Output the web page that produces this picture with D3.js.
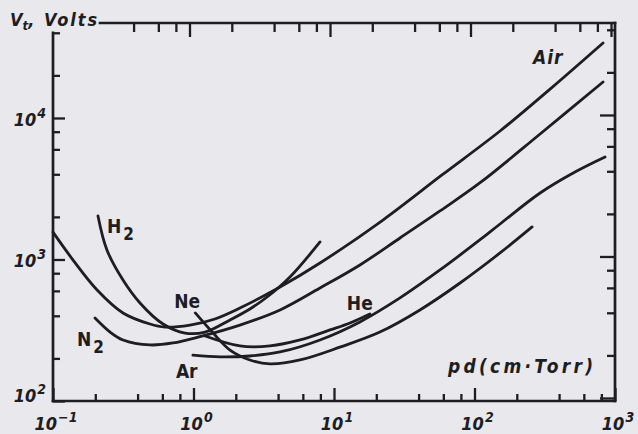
<!DOCTYPE html>
<html>
<head>
<meta charset="utf-8">
<script src="https://cdn.jsdelivr.net/npm/d3@7"></script>
<style>
  body { margin: 0; background: #e8e8ed; }
  svg { display: block; }
</style>
</head>
<body>
<div id="container"></div>
<script>
let w = 638;
let h = 434;

// axis ticks
let xMajor = [0.1, 1, 10, 100, 1000];
let xExp = ["-1", "0", "1", "2", "3"];
let xMinor = [0.2, 0.4, 0.6, 0.8, 2, 4, 6, 8, 20, 40, 60, 80, 200, 400, 600, 800];
let yMajor = [100, 1000, 10000];
let yExp = ["2", "3", "4"];
let yMinor = [200, 400, 600, 800, 2000, 4000, 6000, 8000, 20000, 40000];

// Paschen curves: pd (cm.Torr) and breakdown voltage (V)
let airPd = [0.1, 0.139, 0.206, 0.315, 0.49, 0.627, 0.944, 1.42, 2.14, 4.13, 7.95, 22.3, 58.7, 152, 345, 822];
let airV  = [1560, 990, 609, 419, 350, 333, 344, 380, 454, 639, 944, 1900, 3955, 8090, 16000, 33900];

let h2Pd = [0.209, 0.242, 0.315, 0.416, 0.607, 0.871, 1.21, 1.82, 2.52, 3.34, 4.86, 7.95];
let h2V  = [2030, 1167, 716, 493, 350, 302, 307, 374, 447, 543, 752, 1330];

let n2Pd = [0.199, 0.255, 0.315, 0.49, 0.714, 1.11, 2.14, 4.13, 7.95, 15.3, 29.5, 56.8, 109, 293, 822];
let n2V  = [386, 307, 270, 249, 257, 285, 344, 440, 629, 915, 1419, 2203, 3472, 7710, 17960];

let nePd = [1.03, 1.38, 1.82, 2.52, 3.5, 5.73, 11.0, 21.2, 40.9, 78.9, 152, 257];
let neV  = [419, 302, 229, 195, 183, 195, 240, 307, 440, 682, 1112, 1698];

let arPd = [0.99, 1.55, 2.52, 4.13, 7.95, 15.3, 29.5, 56.8, 109, 152, 293, 519, 849];
let arV  = [211, 205, 208, 222, 270, 362, 535, 843, 1374, 1782, 2950, 4150, 5300];

let hePd = [1.21, 2.14, 3.5, 5.73, 9.37, 13.0, 18.0];
let heV  = [288, 245, 245, 270, 318, 356, 412];

let gases = [
  {name: "Air", pd: airPd, v: airV},
  {name: "H2",  pd: h2Pd,  v: h2V},
  {name: "N2",  pd: n2Pd,  v: n2V},
  {name: "Ne",  pd: nePd,  v: neV},
  {name: "Ar",  pd: arPd,  v: arV},
  {name: "He",  pd: hePd,  v: heV}
];

// where each name sits, relative to the first or last point of its curve (px)
let labelSpots = {
  Air: {end: true,  dx: -70, dy: 21, italic: true},
  H2:  {end: false, dx: 9,   dy: 17},
  N2:  {end: false, dx: -18, dy: 28},
  Ne:  {end: false, dx: -21, dy: -5},
  Ar:  {end: false, dx: -17, dy: 23},
  He:  {end: true,  dx: -23, dy: -4}
};

let ink = "#1d1d22";
let textFont = "'DejaVu Sans Condensed', 'DejaVu Sans', sans-serif";

let viz = d3.select("#container")
  .append("svg")
    .attr("width", w)
    .attr("height", h)
;
viz.append("rect").attr("width", w).attr("height", h).attr("fill", "#e8e8ed");

let xScale = d3.scaleLog().domain([0.1, 1000]).range([53, 615]);
let yScale = d3.scaleLog().domain([100, 46900]).range([401, 23]);

let x0 = xScale(0.1), x1 = xScale(1000);
let y0 = yScale(100), y1 = yScale(46900);

// ticks, drawn with d3 axes; the scan is a bit skewed so top/right sit a few px off
function tickAxis(axisFn, values, size, transform){
  let g = viz.append("g").attr("transform", transform);
  g.call(axisFn.tickValues(values).tickSizeInner(size).tickSizeOuter(0).tickFormat(""));
  g.select(".domain").remove();
  g.selectAll("line").attr("stroke", ink).attr("stroke-width", 2.3);
  return g;
}
tickAxis(d3.axisBottom(xScale), xMajor, -13, "translate(0," + y0 + ")");
tickAxis(d3.axisBottom(xScale), xMinor, -7, "translate(0," + y0 + ")");
let topLineStart = 100;
tickAxis(d3.axisTop(xScale), xMajor.filter(d => xScale(d) > topLineStart), -14, "translate(-4," + y1 + ")");
tickAxis(d3.axisTop(xScale), xMinor.filter(d => xScale(d) > topLineStart + 10), -9, "translate(-4," + y1 + ")");
tickAxis(d3.axisLeft(yScale), yMajor, -12, "translate(" + x0 + ",0)");
tickAxis(d3.axisLeft(yScale), yMinor, -7, "translate(" + x0 + ",0)");
tickAxis(d3.axisRight(yScale), yMajor, -15, "translate(" + x1 + ",-3)");
tickAxis(d3.axisRight(yScale), yMinor, -8, "translate(" + x1 + ",-3)");

// frame
let frame = viz.append("g")
  .attr("stroke", ink)
  .attr("stroke-width", 2.7)
  .attr("stroke-linecap", "square")
  .attr("fill", "none");
frame.append("line").attr("x1", x0).attr("x2", x1).attr("y1", y0).attr("y2", y0);
frame.append("line").attr("x1", x1).attr("x2", x1).attr("y1", y1).attr("y2", y0);
frame.append("line").attr("x1", topLineStart).attr("x2", x1).attr("y1", y1).attr("y2", y1);
frame.append("line").attr("x1", x0).attr("x2", x0).attr("y1", yScale(40000)).attr("y2", y0);

// curves
let line = d3.line()
  .x(d => xScale(d[0]))
  .y(d => yScale(d[1]))
  .curve(d3.curveCatmullRom.alpha(0.5));

viz.append("g").classed("curves", true)
  .selectAll("path")
  .data(gases)
  .enter()
  .append("path")
    .attr("d", d => line(d.pd.map((p, i) => [p, d.v[i]])))
    .attr("fill", "none")
    .attr("stroke", ink)
    .attr("stroke-width", 2.8)
    .attr("stroke-linecap", "round")
;

// curve names
gases.forEach(function(g){
  let s = labelSpots[g.name];
  let i = s.end ? g.pd.length - 1 : 0;
  let t = viz.append("text")
    .attr("x", xScale(g.pd[i]) + s.dx)
    .attr("y", yScale(g.v[i]) + s.dy)
    .attr("fill", ink)
    .attr("font-family", textFont)
    .attr("font-weight", "bold");
  if (s.italic) {
    t.attr("font-style", "italic").attr("font-size", 19).attr("letter-spacing", 1).text(g.name);
  } else {
    t.attr("font-size", 19);
    let m = g.name.match(/^([A-Za-z]+)(\d*)$/);
    t.append("tspan").text(m[1]);
    if (m[2]) t.append("tspan").attr("dy", 7).attr("dx", 2).attr("font-size", 17).text(m[2]);
  }
});

// tick labels: 10 with a raised exponent
let labelStyle = function(sel){
  sel.attr("font-family", textFont).attr("font-style", "italic").attr("font-weight", "bold")
     .attr("font-size", 18).attr("fill", ink);
};
xMajor.forEach(function(v, i){
  let t = viz.append("text").call(labelStyle)
    .attr("x", xScale(v) + 3).attr("y", 430).attr("text-anchor", "middle");
  t.append("tspan").text("10");
  t.append("tspan").attr("dy", -8).attr("dx", 1).attr("font-size", 14).text(xExp[i].replace("-", "\u2212"));
});
yMajor.forEach(function(v, i){
  let t = viz.append("text").call(labelStyle)
    .attr("x", 46).attr("y", Math.min(yScale(v) + 8, 402)).attr("text-anchor", "end");
  t.append("tspan").text("10");
  t.append("tspan").attr("dy", -8).attr("dx", 1).attr("font-size", 14).text(yExp[i]);
});

// axis titles
let yTitle = viz.append("text").call(labelStyle)
  .attr("x", 10).attr("y", 26).attr("font-size", 18);
yTitle.append("tspan").text("V");
yTitle.append("tspan").attr("dy", 4).attr("font-size", 13).text("t");
yTitle.append("tspan").attr("dy", -4).attr("letter-spacing", 2).text(", Volts");

viz.append("text").call(labelStyle)
  .attr("x", 448).attr("y", 373).attr("font-size", 19)
  .attr("textLength", 145).attr("lengthAdjust", "spacing")
  .text("pd(cm\u00b7Torr)");
</script>
</body>
</html>
